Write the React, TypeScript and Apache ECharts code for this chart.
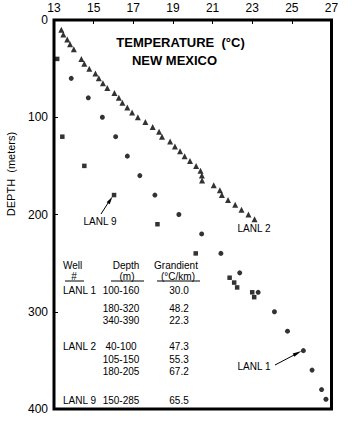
import React, { useEffect, useRef } from "react";
import * as echarts from "echarts";

// LANL 2 (triangles)
const lanl2Depth = [10, 15, 20, 25, 30, 40, 45, 50, 55, 60, 65, 70, 75, 80, 85, 90, 95, 100, 105, 110, 115, 120, 125, 130, 135, 140, 145, 150, 155, 160, 165, 170, 175, 180, 185, 190, 195, 200, 205];
const lanl2Temp = [13.37, 13.47, 13.67, 13.81, 14.0, 14.38, 14.53, 14.78, 15.09, 15.26, 15.47, 15.69, 16.05, 16.27, 16.45, 16.7, 16.94, 17.23, 17.61, 17.98, 18.3, 18.45, 18.86, 19.1, 19.36, 19.59, 19.86, 20.17, 20.39, 20.46, 20.47, 21.06, 21.37, 21.47, 21.78, 22.14, 22.46, 22.81, 23.12];

// LANL 1 (dots)
const lanl1Depth = [60, 80, 100, 120, 140, 160, 180, 200, 220, 240, 260, 280, 300, 320, 340, 360, 380, 390];
const lanl1Temp = [13.87, 14.73, 15.44, 16.11, 16.7, 17.33, 18.09, 19.3, 20.45, 21.42, 22.37, 23.3, 24.12, 24.78, 25.58, 26.02, 26.5, 26.72];

// LANL 9 (squares)
const lanl9Depth = [40, 120, 150, 180, 210, 240, 265, 270, 275, 280, 285];
const lanl9Temp = [13.16, 13.42, 14.53, 16.03, 18.22, 20.15, 21.86, 22.09, 22.24, 23.0, 23.1];

// Table
const tableWells = ["LANL 1", "", "", "LANL 2", "", "", "LANL 9"];
const tableDepths = ["100-160", "180-320", "340-390", "40-100", "105-150", "180-205", "150-285"];
const tableGradients = ["30.0", "48.2", "22.3", "47.3", "55.3", "67.2", "65.5"];
const tableRowY = [290.5, 308, 320, 346.5, 359, 371.5, 400];

const FONT = "'Liberation Sans', Arial, sans-serif";

const pair = (xs: number[], ys: number[]) => xs.map((x, i) => [x, ys[i]]);

export default function App() {
  const ref = useRef<HTMLDivElement>(null);
  useEffect(() => {
    if (!ref.current) return;
    const chart = echarts.init(ref.current, undefined, { renderer: "svg" });
    const txt = (text: string, x: number, y: number, align: string, size = 10, weight = "normal") => ({
      type: "text",
      x,
      y,
      style: { text, fill: "#000", font: `${weight} ${size}px ${FONT}`, align, verticalAlign: "middle" },
    });
    const table: any[] = [
      txt("Well", 63, 265, "left"),
      txt("Depth", 126, 265, "center"),
      txt("Grandient", 176, 265, "center"),
      txt("#", 74, 276, "center"),
      txt("(m)", 127, 276, "center"),
      txt("(°C/km)", 178, 276, "center"),
    ];
    tableRowY.forEach((y, i) => {
      if (tableWells[i]) table.push(txt(tableWells[i], 63, y, "left"));
      table.push(txt(tableDepths[i], 121, y, "center"));
      table.push(txt(tableGradients[i], 179, y, "center"));
    });
    const uline = (x1: number, x2: number, y: number) => ({
      type: "line",
      shape: { x1, y1: y, x2, y2: y },
      style: { stroke: "#000", lineWidth: 1 },
    });
    chart.setOption({
      animation: false,
      backgroundColor: "#fff",
      grid: { left: 54, right: 20.5, top: 20, bottom: 14, show: true, borderWidth: 3, borderColor: "#000" },
      xAxis: {
        type: "value",
        position: "top",
        min: 13,
        max: 27,
        interval: 2,
        axisLine: { show: false },
        splitLine: { show: false },
        axisTick: { inside: true, length: 4, lineStyle: { color: "#000", width: 1 } },
        axisLabel: { color: "#000", fontSize: 12, fontFamily: FONT, margin: 6, showMinLabel: true, showMaxLabel: true },
      },
      yAxis: {
        type: "value",
        inverse: true,
        min: 0,
        max: 400,
        interval: 100,
        axisLine: { show: false },
        splitLine: { show: false },
        axisTick: { inside: true, length: 4, lineStyle: { color: "#000", width: 1 } },
        axisLabel: { color: "#000", fontSize: 12, fontFamily: FONT, margin: 6 },
      },
      series: [
        { type: "scatter", name: "LANL 2", symbol: "triangle", symbolSize: 6, itemStyle: { color: "#000" }, data: pair(lanl2Temp, lanl2Depth) },
        { type: "scatter", name: "LANL 1", symbol: "circle", symbolSize: 5, itemStyle: { color: "#000" }, data: pair(lanl1Temp, lanl1Depth) },
        { type: "scatter", name: "LANL 9", symbol: "rect", symbolSize: 4.5, itemStyle: { color: "#000" }, data: pair(lanl9Temp, lanl9Depth) },
      ],
      graphic: [
        txt("TEMPERATURE  (°C)", 180.5, 42, "center", 13, "bold"),
        txt("NEW MEXICO", 174.5, 60.5, "center", 13, "bold"),
        {
          type: "text",
          x: 11,
          y: 174,
          rotation: Math.PI / 2,
          style: { text: "DEPTH  (meters)", fill: "#000", font: `normal 11px ${FONT}`, align: "center", verticalAlign: "middle" },
        },
        ...table,
        uline(65, 84, 281),
        uline(111, 144, 281),
        uline(157, 200, 281),
        txt("LANL 9", 100, 221, "center"),
        txt("LANL 2", 254, 228.5, "center"),
        txt("LANL 1", 254, 366, "center"),
        { type: "line", shape: { x1: 101, y1: 214, x2: 109, y2: 201.5 }, style: { stroke: "#000", lineWidth: 1 } },
        { type: "polygon", shape: { points: [[112.5, 196.5], [109.7, 204.2], [106.7, 202.2]] }, style: { fill: "#000" } },
        { type: "line", shape: { x1: 275, y1: 365, x2: 295, y2: 354.5 }, style: { stroke: "#000", lineWidth: 1 } },
        { type: "polygon", shape: { points: [[301.5, 351], [294.4, 356.8], [292.7, 353.6]] }, style: { fill: "#000" } },
      ],
    });
    return () => chart.dispose();
  }, []);
  return <div ref={ref} style={{ position: "fixed", left: 0, top: 0, width: 352, height: 423, background: "#fff" }} />;
}
